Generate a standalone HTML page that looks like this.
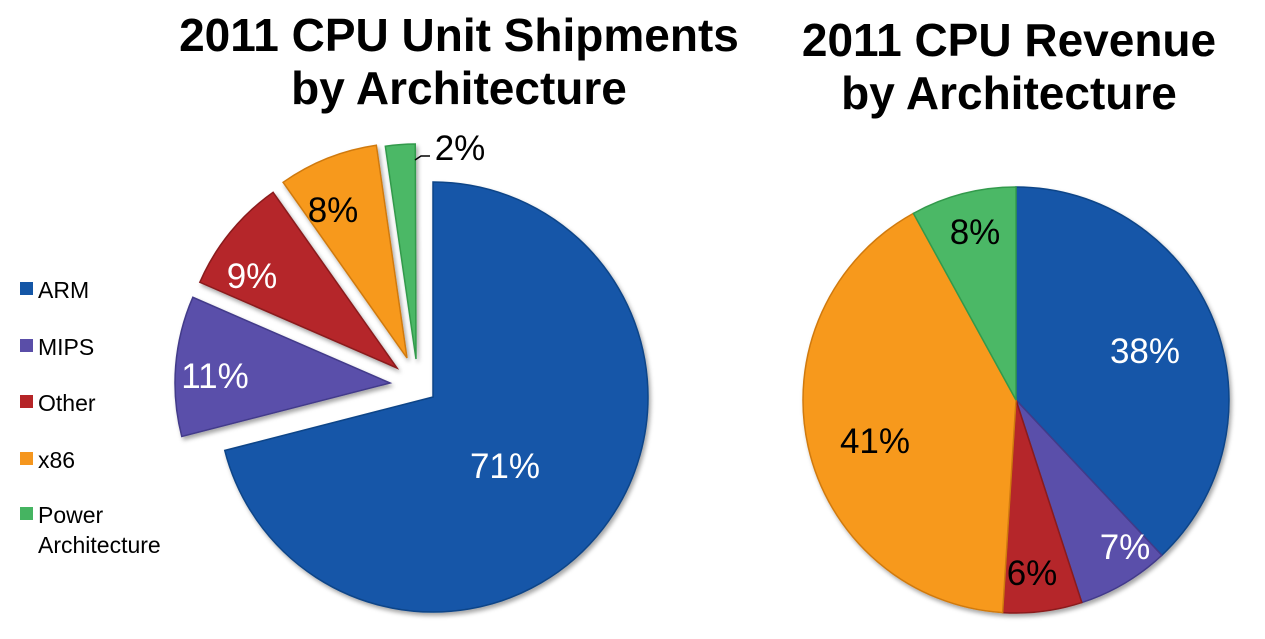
<!DOCTYPE html>
<html><head><meta charset="utf-8"><style>
body{margin:0;background:#fff;width:1265px;height:639px;overflow:hidden}
svg{display:block}
text{font-family:"Liberation Sans",Arial,sans-serif}
</style></head><body>
<svg width="1265" height="639" viewBox="0 0 1265 639">
<defs>
<filter id="sh" x="-10%" y="-10%" width="130%" height="130%"><feDropShadow dx="2" dy="3" stdDeviation="2" flood-opacity="0.35"/></filter>
</defs>
<g id="p1" filter="url(#sh)" stroke-width="1.5"></g>
<g id="p2" filter="url(#sh)" stroke-width="1.5"></g>
<g font-size="46" font-weight="bold" text-anchor="middle" fill="#000">
<text x="459" y="51">2011 CPU Unit Shipments</text>
<text x="459" y="104">by Architecture</text>
<text x="1009" y="56">2011 CPU Revenue</text>
<text x="1009" y="109">by Architecture</text>
</g>
<g font-size="23">
<rect x="20" y="282" width="13" height="13" fill="#1456a6"/><text x="38" y="298">ARM</text>
<rect x="20" y="339" width="13" height="13" fill="#5a4ea8"/><text x="38" y="355">MIPS</text>
<rect x="20" y="395" width="13" height="13" fill="#b52427"/><text x="38" y="411">Other</text>
<rect x="20" y="452" width="13" height="13" fill="#f5961e"/><text x="38" y="468">x86</text>
<rect x="20" y="507" width="13" height="13" fill="#45b461"/><text x="38" y="523">Power</text><text x="38" y="553">Architecture</text>
</g>
<g font-size="35" text-anchor="middle">
<text x="505" y="478" fill="#fff">71%</text>
<text x="215" y="388" fill="#fff">11%</text>
<text x="252" y="288" fill="#fff">9%</text>
<text x="333" y="222" fill="#000">8%</text>
<text x="460" y="160" fill="#000">2%</text>
<text x="1145" y="363" fill="#fff">38%</text>
<text x="1125" y="559" fill="#fff">7%</text>
<text x="1032" y="585" fill="#000">6%</text>
<text x="875" y="453" fill="#000">41%</text>
<text x="975" y="244" fill="#000">8%</text>
</g>
<path d="M415 160 L421 156 L430 156" stroke="#000" fill="none" stroke-width="1.5"/>
</svg>
<script>
var NS="http://www.w3.org/2000/svg";
function wedge(g,x,y,r,d0,d1,fill,stroke){
 var a0=d0*Math.PI/180,a1=d1*Math.PI/180;
 var x0=x+r*Math.sin(a0),y0=y-r*Math.cos(a0),x1=x+r*Math.sin(a1),y1=y-r*Math.cos(a1);
 var p=document.createElementNS(NS,"path");
 p.setAttribute("d","M"+x+" "+y+" L"+x0+" "+y0+" A"+r+" "+r+" 0 "+((d1-d0)>180?1:0)+" 1 "+x1+" "+y1+" Z");
 p.setAttribute("fill",fill);p.setAttribute("stroke",stroke);g.appendChild(p);
}
var C=["#1557a8","#5a50aa","#b5252a","#f7991f","#4cb866"],S=["#0e4488","#433a8a","#8a1a1d","#d07a10","#329a4c"];
var g1=document.getElementById("p1");
wedge(g1,433,397,215,0,255.6,C[0],S[0]);
wedge(g1,390,383,215,255.6,293.5,C[1],S[1]);
wedge(g1,397,368,215,293.5,324.8,C[2],S[2]);
wedge(g1,407,358,215,324.8,351.8,C[3],S[3]);
wedge(g1,416,359,215,351.8,359.8,C[4],S[4]);
var g2=document.getElementById("p2"),v=[38,7,6,41,8],a=0;
v.forEach(function(x,i){wedge(g2,1016,400,213,a*3.6,(a+x)*3.6,C[i],S[i]);a+=x;});
</script>
</body></html>
